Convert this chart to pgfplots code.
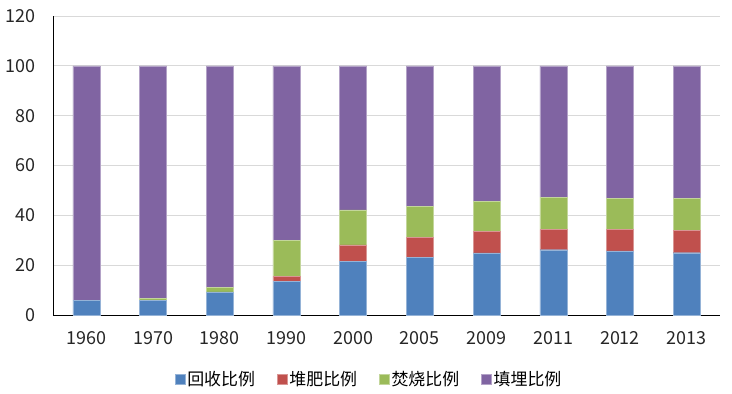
\documentclass[border=0pt]{standalone}
\usepackage{pgfplots}
\pgfplotsset{compat=1.18}
\usepackage{fontspec}
\setmainfont{Noto Sans CJK SC}
\definecolor{cblue}{HTML}{4F81BD}
\definecolor{cred}{HTML}{C0504D}
\definecolor{cgreen}{HTML}{9BBB59}
\definecolor{cpurple}{HTML}{8064A2}
\definecolor{gridc}{HTML}{D9D9D9}
\begin{document}
\begin{tikzpicture}[x=1bp,y=1bp]
\path (0,0) rectangle (732,393);
\begin{axis}[
  at={(53bp,78bp)}, anchor=south west,
  scale only axis, width=667bp, height=299bp,
  ybar stacked, bar width=27bp,
  xmin=-0.5, xmax=9.5, ymin=0, ymax=120,
  xtick={0,...,9},
  xticklabels={1960,1970,1980,1990,2000,2005,2009,2011,2012,2013},
  ytick={0,20,...,120},
  ymajorgrids, grid style={gridc, line width=0.8pt},
  axis x line*=bottom, axis y line*=left,
  axis line style={black, line width=0.8pt},
  x axis line style={-}, y axis line style={-},
  major tick length=0pt,
  tick label style={font=\fontsize{18}{21}\selectfont, text=black!85},
  /pgf/number format/assume math mode=true,
  xticklabel style={yshift=-13bp},
  yticklabel style={xshift=-14bp},
  legend style={at={(0.474,-0.215)}, anchor=center, draw=none, fill=none,
    font=\fontsize{17}{20}\selectfont, legend columns=4,
    /tikz/every even column/.append style={column sep=20bp}},
  legend image code/.code={\fill[#1] (0bp,-5bp) rectangle (10bp,5bp);},
]
\addplot[fill=cblue, draw=cblue!60!white, line width=0.4pt] coordinates {(0,6.0) (1,6.0) (2,9.3) (3,13.6) (4,21.6) (5,23.0) (6,24.9) (7,26.2) (8,25.7) (9,25.0)};
\addplot[fill=cred, draw=cred!60!white, line width=0.4pt] coordinates {(0,0) (1,0) (2,0) (3,1.9) (4,6.5) (5,8.1) (6,8.6) (7,8.1) (8,8.6) (9,8.9)};
\addplot[fill=cgreen, draw=cgreen!60!white, line width=0.4pt] coordinates {(0,0) (1,0.8) (2,1.8) (3,14.5) (4,14.1) (5,12.4) (6,12.0) (7,13.0) (8,12.6) (9,12.8)};
\addplot[fill=cpurple, draw=cpurple!60!white, line width=0.4pt] coordinates {(0,94.0) (1,93.2) (2,88.9) (3,70.0) (4,57.8) (5,56.5) (6,54.5) (7,52.7) (8,53.1) (9,53.3)};
\legend{回收比例,堆肥比例,焚烧比例,填埋比例}
\end{axis}
\end{tikzpicture}
\end{document}
